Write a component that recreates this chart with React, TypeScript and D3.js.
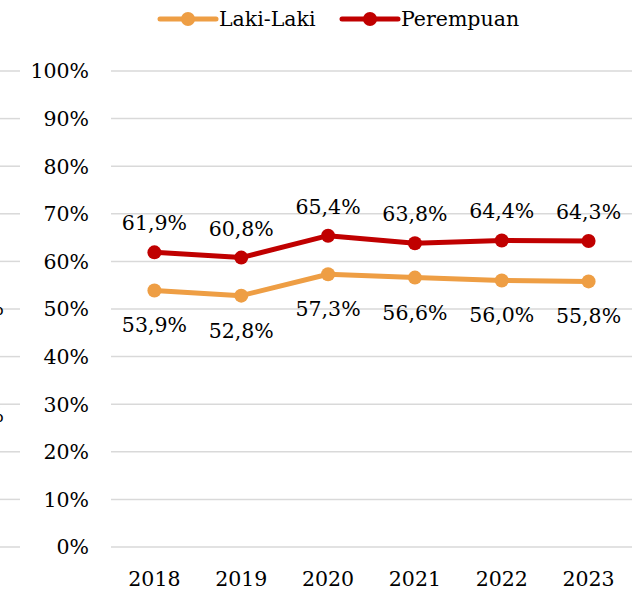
import React, { useEffect, useRef } from 'react';
import * as d3 from 'd3';

const years = ['2018', '2019', '2020', '2021', '2022', '2023'];
const lakiLaki = [53.9, 52.8, 57.3, 56.6, 56.0, 55.8];
const perempuan = [61.9, 60.8, 65.4, 63.8, 64.4, 64.3];
const yTicks = [0, 10, 20, 30, 40, 50, 60, 70, 80, 90, 100];

const FONT = '"DejaVu Serif", serif';
const ORANGE = '#EE9E44';
const RED = '#C00000';
const FS = 20.5;

export default function App() {
  const svgRef = useRef<SVGSVGElement | null>(null);
  const width = 641;
  const height = 592;

  useEffect(() => {
    const svg = d3.select(svgRef.current);
    svg.selectAll('*').remove();

    const margin = { top: 71, right: 9, bottom: 45, left: 111 };

    const x = d3
      .scaleBand()
      .domain(years)
      .range([margin.left, width - margin.right]);

    const y = d3
      .scaleLinear()
      .domain([0, 100])
      .range([height - margin.bottom, margin.top]);

    // strip of the neighbouring chart on the left edge
    svg
      .append('g')
      .selectAll('line')
      .data(yTicks)
      .join('line')
      .attr('x1', 0)
      .attr('x2', 20)
      .attr('y1', (d) => y(d))
      .attr('y2', (d) => y(d))
      .attr('stroke', '#D9D9D9')
      .attr('stroke-width', 1.5);

    svg
      .append('g')
      .selectAll('text')
      .data([308, 415])
      .join('text')
      .attr('x', 4)
      .attr('y', (d) => d + 7)
      .attr('text-anchor', 'end')
      .attr('font-family', FONT)
      .attr('font-size', FS)
      .attr('fill', '#000')
      .text('%');

    // gridlines
    svg
      .append('g')
      .selectAll('line')
      .data(yTicks)
      .join('line')
      .attr('x1', margin.left)
      .attr('x2', width - margin.right)
      .attr('y1', (d) => y(d))
      .attr('y2', (d) => y(d))
      .attr('stroke', '#D9D9D9')
      .attr('stroke-width', 1.5);

    // y tick labels
    svg
      .append('g')
      .selectAll('text')
      .data(yTicks)
      .join('text')
      .attr('x', 89)
      .attr('y', (d) => y(d))
      .attr('dy', '0.36em')
      .attr('text-anchor', 'end')
      .attr('font-family', FONT)
      .attr('font-size', FS)
      .attr('fill', '#000')
      .text((d) => `${d}%`);

    // x labels
    svg
      .append('g')
      .selectAll('text')
      .data(years)
      .join('text')
      .attr('x', (d) => x(d)! + x.bandwidth() / 2)
      .attr('y', 586)
      .attr('text-anchor', 'middle')
      .attr('font-family', FONT)
      .attr('font-size', FS)
      .attr('fill', '#000')
      .text((d) => d);

    const cx = (i: number) => x(years[i])! + x.bandwidth() / 2;
    const line = d3
      .line<number>()
      .x((_, i) => cx(i))
      .y((d) => y(d));

    const series = [
      { values: lakiLaki, color: ORANGE, labelDy: 42 },
      { values: perempuan, color: RED, labelDy: -22 },
    ];

    series.forEach((s) => {
      svg
        .append('path')
        .datum(s.values)
        .attr('fill', 'none')
        .attr('stroke', s.color)
        .attr('stroke-width', 5)
        .attr('stroke-linejoin', 'round')
        .attr('d', line);

      svg
        .append('g')
        .selectAll('circle')
        .data(s.values)
        .join('circle')
        .attr('cx', (_, i) => cx(i))
        .attr('cy', (d) => y(d))
        .attr('r', 7)
        .attr('fill', s.color);

      svg
        .append('g')
        .selectAll('text')
        .data(s.values)
        .join('text')
        .attr('x', (_, i) => cx(i))
        .attr('y', (d) => y(d) + s.labelDy)
        .attr('text-anchor', 'middle')
        .attr('font-family', FONT)
        .attr('font-size', FS)
        .attr('fill', '#000')
        .text((d) => `${d.toFixed(1).replace('.', ',')}%`);
    });

    // legend
    const legendItems = [
      { name: 'Laki-Laki', color: ORANGE, x0: 160 },
      { name: 'Perempuan', color: RED, x0: 342 },
    ];
    const lg = svg.append('g');
    legendItems.forEach((item) => {
      lg.append('line')
        .attr('x1', item.x0)
        .attr('x2', item.x0 + 56)
        .attr('y1', 19)
        .attr('y2', 19)
        .attr('stroke', item.color)
        .attr('stroke-width', 5)
        .attr('stroke-linecap', 'round');
      lg.append('circle')
        .attr('cx', item.x0 + 28)
        .attr('cy', 19)
        .attr('r', 7)
        .attr('fill', item.color);
      lg.append('text')
        .attr('x', item.x0 + 59)
        .attr('y', 26)
        .attr('font-family', FONT)
        .attr('font-size', FS)
        .attr('fill', '#000')
        .text(item.name);
    });
  }, []);

  return (
    <svg
      ref={svgRef}
      width={width}
      height={height}
      style={{ position: 'absolute', left: 0, top: 0, background: '#fff' }}
    />
  );
}
